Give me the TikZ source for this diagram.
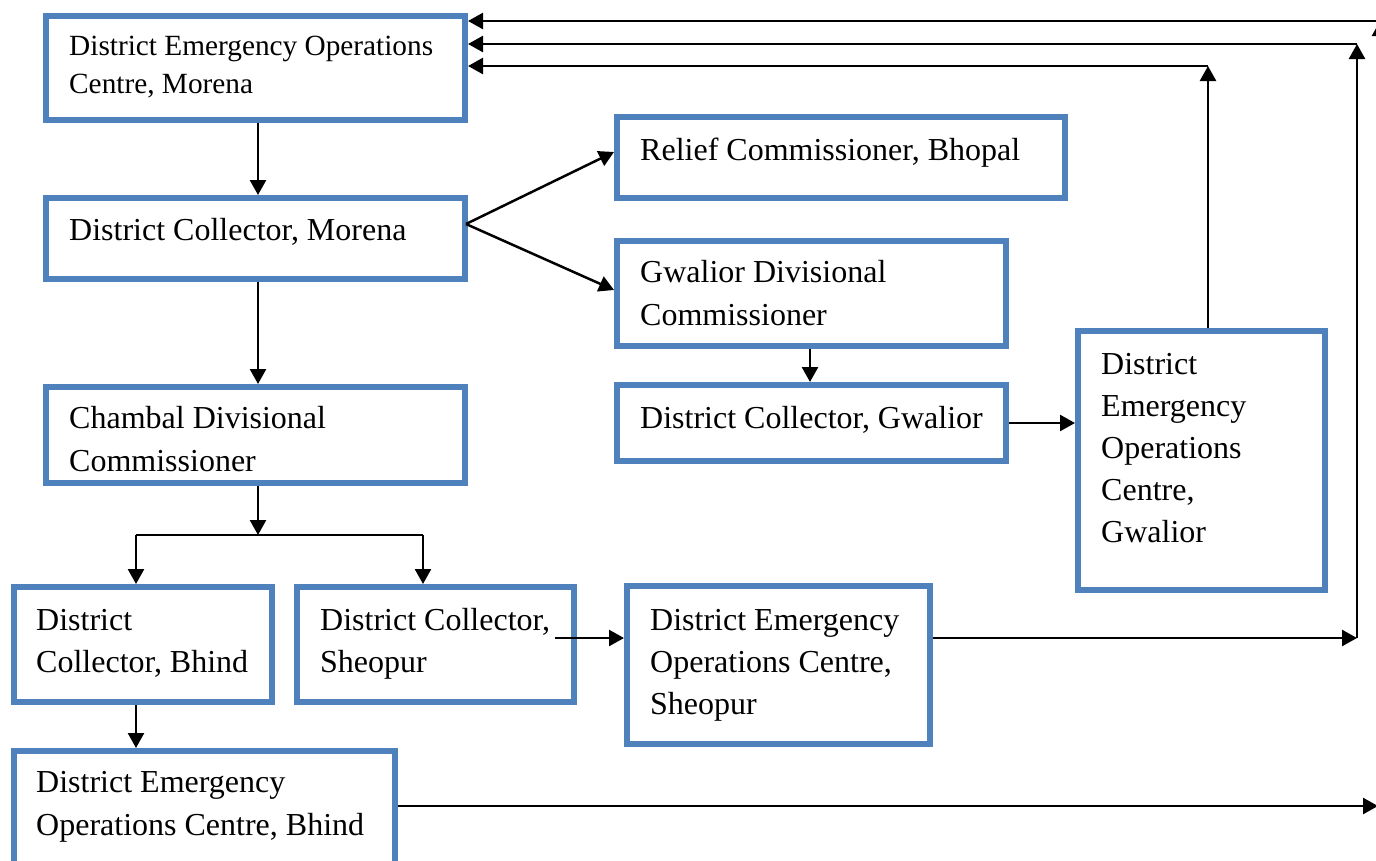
\documentclass[tikz,border=0pt]{standalone}
\usepackage{fontspec}
\setmainfont{Liberation Serif}
\usetikzlibrary{arrows.meta,fit,calc}
\definecolor{boxblue}{RGB}{79,129,189}
\begin{document}
\begin{tikzpicture}[x=1pt,y=-1pt,
  box/.style={draw=boxblue, line width=6pt, fill=white, inner sep=0pt, rectangle},
  lbl/.style={anchor=base west, align=left, inner sep=0pt, font=\fontsize{32}{42}\selectfont},
  link/.style={line width=2.5pt, -{Triangle[length=15pt,width=16pt]}},
  rail/.style={line width=1.8pt}
]
\useasboundingbox (0,0) rectangle (1376,860);
\begin{scope}
\clip (0,0) rectangle (1376,860);

% boxes
\node[box, fit={(46,16) (465,120)}]   (mor)  {};
\node[box, fit={(46,198) (465,279)}]  (dcm)  {};
\node[box, fit={(46,387) (465,483)}]  (chm)  {};
\node[box, fit={(617,117) (1065,198)}] (rel) {};
\node[box, fit={(617,241) (1006,346)}] (gdc) {};
\node[box, fit={(617,385) (1006,461)}] (dcg) {};
\node[box, fit={(1078,331) (1325,590)}] (deg) {};
\node[box, fit={(14,587) (272,702)}]  (dcb)  {};
\node[box, fit={(297,587) (574,702)}] (dcs)  {};
\node[box, fit={(627,586) (930,744)}] (deos) {};
\node[box, fit={(14,751) (395,875)}]  (deob) {};

% labels (placed by the baseline of their last line)
\node[lbl, font=\fontsize{29.3}{38}\selectfont] (mor-t) at (69,93) {District Emergency Operations\\Centre, Morena};
\node[lbl] (dcm-t) at (69,240) {District Collector, Morena};
\node[lbl, font=\fontsize{32}{43}\selectfont] (chm-t) at (69,471) {Chambal Divisional\\Commissioner};
\node[lbl] (rel-t) at (640,160) {Relief Commissioner, Bhopal};
\node[lbl, font=\fontsize{32}{43}\selectfont] (gdc-t) at (640,325) {Gwalior Divisional\\Commissioner};
\node[lbl] (dcg-t) at (640,428) {District Collector, Gwalior};
\node[lbl] (deg-t) at (1101,542) {District\\Emergency\\Operations\\Centre,\\Gwalior};
\node[lbl] (dcb-t) at (36,672) {District\\Collector, Bhind};
\node[lbl] (dcs-t) at (320,672) {District Collector,\\Sheopur};
\node[lbl] (deos-t) at (650,714) {District Emergency\\Operations Centre,\\Sheopur};
\node[lbl, font=\fontsize{32}{43}\selectfont] (deob-t) at (36,835) {District Emergency\\Operations Centre, Bhind};

% junction points of the connectors
\coordinate (fork) at (466,224);
\coordinate (split) at (258,535);
\coordinate (sl) at (136,535);
\coordinate (sr) at (423,535);
\coordinate (gw) at (1208,66);
\coordinate (sp) at (1357,638);
\coordinate (spt) at (1357,44);
\coordinate (bh) at (1378,806);
\coordinate (bhx) at (1380,806);
\coordinate (bht) at (1380,21);
\coordinate (sps) at (555,638);

% vertical chain on the left
\draw[link] (mor.south -| split) -- (dcm.north -| split);
\draw[link] (dcm.south -| split) -- (chm.north -| split);
\draw[link] (chm.south -| split) -- (split);
\draw[rail] (sl) -- (sr);
\draw[link] (sl) -- (sl |- dcb.north);
\draw[link] (sr) -- (sr |- dcs.north);
\draw[link] (dcb.south -| sl) -- (deob.north -| sl);

% branches to the state and the Gwalior division
\draw[link] (fork) -- (rel.west |- 0,152);
\draw[link] (fork) -- (gdc.west |- 0,290);
\draw[link] (gdc.south -| 810,0) -- (dcg.north -| 810,0);
\draw[link] (dcg.east) -- (dcg.east -| deg.west);

% feedback lines to the Morena centre
\draw[link] (deg.north -| gw) -- (gw);
\draw[link] (gw) -- (gw -| mor.east);
\draw[link] (sps) -- (sps -| deos.west);
\draw[link] (sp -| deos.east) -- (sp);
\draw[link] (sp) -- (spt);
\draw[link] (spt) -- (spt -| mor.east);
\draw[link] (bh -| deob.east) -- (bh);
\draw[link] (bhx) -- (bht);
\draw[link] (bht) -- (bht -| mor.east);
\end{scope}
\end{tikzpicture}
\end{document}
